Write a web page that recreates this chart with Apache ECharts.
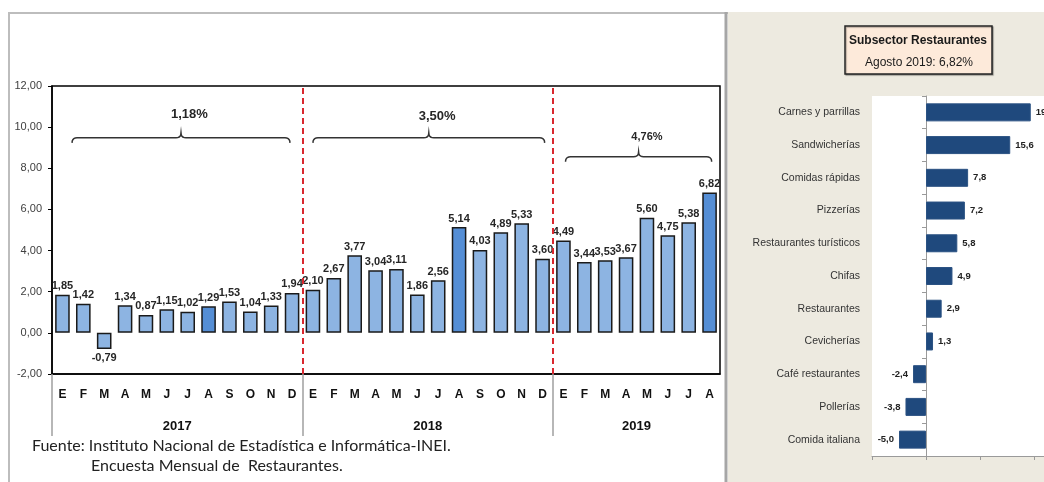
<!DOCTYPE html>
<html>
<head>
<meta charset="utf-8">
<script src="https://cdn.jsdelivr.net/npm/echarts@6/dist/echarts.min.js"></script>
<style>
  html, body { margin: 0; padding: 0; background: #fff; overflow: hidden; }
  #chart { width: 1100px; height: 482px; }
</style>
</head>
<body>
<div id="chart"></div>
<script>
// serie mensual (variación %)
const months = ['E','F','M','A','M','J','J','A','S','O','N','D',
                'E','F','M','A','M','J','J','A','S','O','N','D',
                'E','F','M','A','M','J','J','A'];
const monthValues = [1.85, 1.42, -0.79, 1.34, 0.87, 1.15, 1.02, 1.29, 1.53, 1.04, 1.33, 1.94,
                     2.10, 2.67, 3.77, 3.04, 3.11, 1.86, 2.56, 5.14, 4.03, 4.89, 5.33, 3.60,
                     4.49, 3.44, 3.53, 3.67, 5.60, 4.75, 5.38, 6.82];
const highlighted = [7, 19, 31]; // agosto de cada año
const years = ['2017', '2018', '2019'];
const yearStarts = [0, 12, 24];
const yearCenters = [6, 18, 28];
const periodRates = ['1,18%', '3,50%', '4,76%'];

// subsectores, agosto 2019
const subsectors = ['Carnes y parrillas', 'Sandwicherías', 'Comidas rápidas', 'Pizzerías',
                    'Restaurantes turísticos', 'Chifas', 'Restaurantes', 'Cevicherías',
                    'Café restaurantes', 'Pollerías', 'Comida italiana'];
const subsectorValues = [19.4, 15.6, 7.8, 7.2, 5.8, 4.9, 2.9, 1.3, -2.4, -3.8, -5.0];

const arial = "'Liberation Sans', Arial, sans-serif";

const comma = (v, d) => v.toFixed(d).replace('.', ',');

// llaves sobre cada año (en unidades del eje)
const braces = [
  { from: 0.96, to: 11.4, y: 9.48, labelY: 10.6, size: 13 },
  { from: 12.5, to: 23.6, y: 9.48, labelY: 10.5, size: 13 },
  { from: 24.6, to: 31.6, y: 8.56, labelY: 9.5, size: 11 }
];

const chart = echarts.init(document.getElementById('chart'));

const staticGraphics = [
  { id: 'bg-right', type: 'rect', z: -1, shape: { x: 728, y: 12, width: 372, height: 470 },
    style: { fill: '#EDEAE0' }, silent: true },
  { id: 'border-left', type: 'line', z: -1, shape: { x1: 9, y1: 12, x2: 9, y2: 482 },
    style: { stroke: '#BDBDBD', lineWidth: 2 }, silent: true },
  { id: 'border-top', type: 'line', z: -1, shape: { x1: 9, y1: 13, x2: 728, y2: 13 },
    style: { stroke: '#BDBDBD', lineWidth: 2 }, silent: true },
  { id: 'border-mid', type: 'line', z: -1, shape: { x1: 726, y1: 12, x2: 726, y2: 482 },
    style: { stroke: '#A6A6A6', lineWidth: 3 }, silent: true },
  { id: 'title-box', type: 'rect', shape: { x: 845, y: 26, width: 147, height: 48 },
    style: { fill: '#FDEADA', stroke: '#262626', lineWidth: 1.5,
             shadowColor: 'rgba(0,0,0,0.3)', shadowOffsetX: 1, shadowOffsetY: 1, shadowBlur: 1 } },
  { id: 'title-1', type: 'text', x: 918, y: 41,
    style: { text: 'Subsector Restaurantes', font: 'bold 12px ' + arial, fill: '#1a1a1a',
             align: 'center', verticalAlign: 'middle' } },
  { id: 'title-2', type: 'text', x: 919, y: 63,
    style: { text: 'Agosto 2019: 6,82%', font: '12px ' + arial, fill: '#1a1a1a',
             align: 'center', verticalAlign: 'middle' } },
  { id: 'fuente-1', type: 'text', x: 32, y: 446,
    style: { text: 'Fuente: Instituto Nacional de Estadística e Informática-INEI.', font: '16px Lato, sans-serif',
             fill: '#222', verticalAlign: 'middle' } },
  { id: 'fuente-2', type: 'text', x: 91, y: 466,
    style: { text: 'Encuesta Mensual de  Restaurantes.', font: '16px Lato, sans-serif',
             fill: '#222', verticalAlign: 'middle' } }
];

const option = {
  animation: false,
  backgroundColor: 'transparent',
  grid: [
    { left: 52, top: 86, width: 668, height: 288, show: true,
      backgroundColor: '#fff', borderColor: '#000', borderWidth: 1.5 },
    { left: 872, top: 96, width: 216, height: 360, show: true,
      backgroundColor: '#fff', borderWidth: 0 }
  ],
  xAxis: [
    {
      gridIndex: 0, type: 'category', data: months, position: 'bottom',
      axisLine: { onZero: false, lineStyle: { color: '#000', width: 1.5 } },
      axisTick: { show: false },
      axisLabel: { margin: 15, color: '#111', fontWeight: 'bold', fontSize: 12, fontFamily: arial, interval: 0 }
    },
    {
      gridIndex: 0, type: 'value', min: 0, max: 32, position: 'bottom',
      axisLine: { show: false, onZero: false },
      splitLine: { show: false },
      axisTick: { show: true, customValues: yearStarts, length: 62, lineStyle: { color: '#A0A0A0', width: 1.5 } },
      axisLabel: {
        customValues: yearCenters, margin: 46, color: '#111', fontWeight: 'bold', fontSize: 13, fontFamily: arial,
        formatter: v => years[yearCenters.indexOf(v)] || ''
      }
    },
    {
      gridIndex: 1, type: 'value', min: -10, max: 30, interval: 10, position: 'bottom',
      axisLine: { show: true, onZero: false, lineStyle: { color: '#9A9A9A' } },
      axisTick: { show: true, length: 4, lineStyle: { color: '#9A9A9A' } },
      axisLabel: { show: false },
      splitLine: { show: false }
    }
  ],
  yAxis: [
    {
      gridIndex: 0, type: 'value', min: -2, max: 12, interval: 2,
      axisLine: { show: true, lineStyle: { color: '#000', width: 1.5 } },
      axisTick: { show: true, length: 4, lineStyle: { color: '#000' } },
      splitLine: { show: false },
      axisLabel: { color: '#404040', fontSize: 11, fontFamily: arial, margin: 10, formatter: v => comma(v, 2) }
    },
    {
      gridIndex: 1, type: 'category', data: subsectors, inverse: true,
      axisLine: { show: true, onZero: true, lineStyle: { color: '#9A9A9A' } },
      axisTick: { show: true, length: 4, lineStyle: { color: '#9A9A9A' } },
      axisLabel: { margin: 12, color: '#333', fontSize: 10.5, fontFamily: arial, interval: 0 }
    }
  ],
  series: [
    {
      type: 'bar', xAxisIndex: 0, yAxisIndex: 0, barWidth: '70%',
      data: monthValues.map((v, i) => ({
        value: v,
        itemStyle: { color: highlighted.includes(i) ? '#558ED5' : '#8DB4E2' },
        label: { position: v < 0 ? 'bottom' : 'top' }
      })),
      itemStyle: { borderColor: '#1a1a1a', borderWidth: 1.5 },
      label: {
        show: true, distance: 3, color: '#262626', fontWeight: 'bold', fontSize: 11, fontFamily: arial,
        formatter: p => comma(p.value, 2)
      }
    },
    {
      // líneas rojas que separan los años
      type: 'line', xAxisIndex: 1, yAxisIndex: 0, data: [], silent: true,
      markLine: {
        silent: true, symbol: 'none', label: { show: false },
        lineStyle: { color: '#D9272E', type: [6, 4], width: 2 },
        data: [{ xAxis: 12 }, { xAxis: 24 }]
      }
    },
    {
      type: 'bar', xAxisIndex: 2, yAxisIndex: 1, barWidth: '55%',
      data: subsectorValues.map(v => ({ value: v, label: { position: v < 0 ? 'left' : 'right' } })),
      itemStyle: { color: '#1F497D', borderColor: '#2b5283', borderWidth: 1 },
      label: {
        show: true, distance: 5, color: '#222', fontWeight: 'bold', fontSize: 9.5, fontFamily: arial,
        formatter: p => comma(p.value, 1)
      }
    }
  ],
  graphic: staticGraphics
};

chart.setOption(option);

// curva cuadrática en puntos
function quad(p0, c, p1) {
  const pts = [];
  for (let t = 0; t <= 1.001; t += 0.2) {
    pts.push([
      (1 - t) * (1 - t) * p0[0] + 2 * (1 - t) * t * c[0] + t * t * p1[0],
      (1 - t) * (1 - t) * p0[1] + 2 * (1 - t) * t * c[1] + t * t * p1[1]
    ]);
  }
  return pts;
}

// llaves y tasas anuales, ubicadas con las escalas del gráfico
const braceGraphics = [];
braces.forEach((b, i) => {
  const finder = { xAxisIndex: 1, yAxisIndex: 0 };
  const [x1, y] = chart.convertToPixel(finder, [b.from, b.y]);
  const [x2] = chart.convertToPixel(finder, [b.to, b.y]);
  const [lx, ly] = chart.convertToPixel(finder, [(b.from + b.to) / 2 + 0.4, b.labelY]);
  const xm = (x1 + x2) / 2;
  const r = 5;
  const points = [].concat(
    quad([x1, y + r], [x1, y], [x1 + r, y]),
    quad([xm - r, y], [xm, y], [xm, y - r]),
    quad([xm, y - r], [xm, y], [xm + r, y]),
    quad([x2 - r, y], [x2, y], [x2, y + r])
  );
  braceGraphics.push({
    id: 'brace-' + i, type: 'polyline', shape: { points: points },
    style: { fill: null, stroke: '#333', lineWidth: 1.5 }
  });
  braceGraphics.push({
    id: 'rate-' + i, type: 'text', x: lx, y: ly,
    style: { text: periodRates[i], font: `bold ${b.size}px ${arial}`, fill: '#262626',
             align: 'center', verticalAlign: 'middle' }
  });
});

chart.setOption({ graphic: staticGraphics.concat(braceGraphics) });
</script>
</body>
</html>
